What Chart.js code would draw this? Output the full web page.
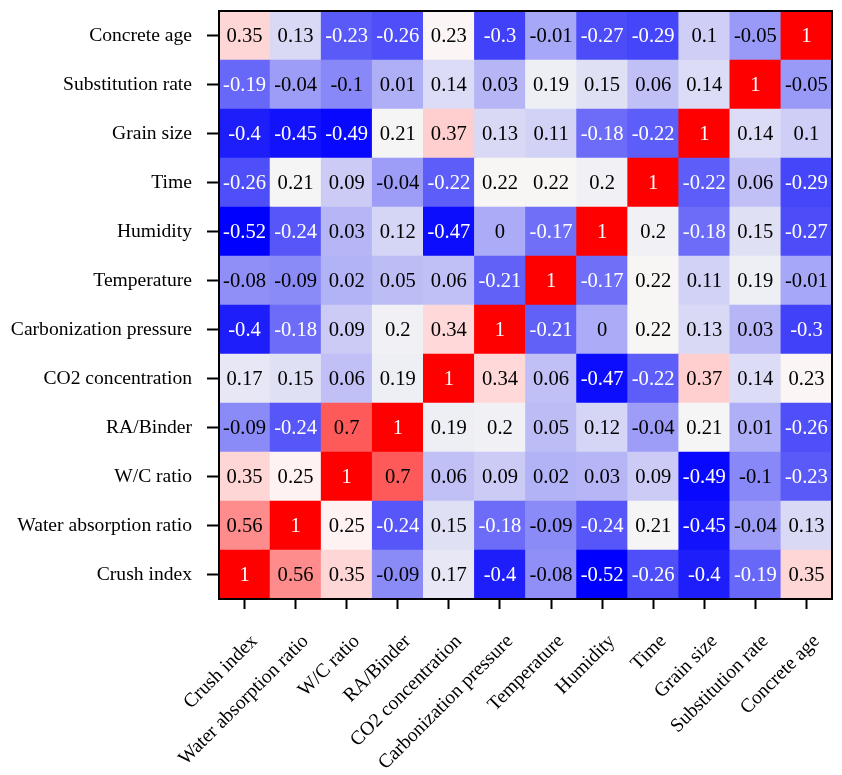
<!DOCTYPE html>
<html>
<head>
<meta charset="utf-8">
<script src="https://cdn.jsdelivr.net/npm/chart.js@4.4.1/dist/chart.umd.min.js"></script>
<style>
  html, body { margin: 0; padding: 0; background: #fff; }
  #wrap { width: 842px; height: 775px; }
</style>
</head>
<body>
<div id="wrap"><canvas id="heatmap"></canvas></div>
<script>
// variables, bottom row / left column first
var variables = [
    'Crush index',
    'Water absorption ratio',
    'W/C ratio',
    'RA/Binder',
    'CO2 concentration',
    'Carbonization pressure',
    'Temperature',
    'Humidity',
    'Time',
    'Grain size',
    'Substitution rate',
    'Concrete age'
];

// one row per variable, columns in the same order as variables
var crushIndex            = [1, 0.56, 0.35, -0.09, 0.17, -0.4, -0.08, -0.52, -0.26, -0.4, -0.19, 0.35];
var waterAbsorptionRatio  = [0.56, 1, 0.25, -0.24, 0.15, -0.18, -0.09, -0.24, 0.21, -0.45, -0.04, 0.13];
var wcRatio               = [0.35, 0.25, 1, 0.7, 0.06, 0.09, 0.02, 0.03, 0.09, -0.49, -0.1, -0.23];
var raBinder              = [-0.09, -0.24, 0.7, 1, 0.19, 0.2, 0.05, 0.12, -0.04, 0.21, 0.01, -0.26];
var co2Concentration      = [0.17, 0.15, 0.06, 0.19, 1, 0.34, 0.06, -0.47, -0.22, 0.37, 0.14, 0.23];
var carbonizationPressure = [-0.4, -0.18, 0.09, 0.2, 0.34, 1, -0.21, 0, 0.22, 0.13, 0.03, -0.3];
var temperature           = [-0.08, -0.09, 0.02, 0.05, 0.06, -0.21, 1, -0.17, 0.22, 0.11, 0.19, -0.01];
var humidity              = [-0.52, -0.24, 0.03, 0.12, -0.47, 0, -0.17, 1, 0.2, -0.18, 0.15, -0.27];
var time                  = [-0.26, 0.21, 0.09, -0.04, -0.22, 0.22, 0.22, 0.2, 1, -0.22, 0.06, -0.29];
var grainSize             = [-0.4, -0.45, -0.49, 0.21, 0.37, 0.13, 0.11, -0.18, -0.22, 1, 0.14, 0.1];
var substitutionRate      = [-0.19, -0.04, -0.1, 0.01, 0.14, 0.03, 0.19, 0.15, 0.06, 0.14, 1, -0.05];
var concreteAge           = [0.35, 0.13, -0.23, -0.26, 0.23, -0.3, -0.01, -0.27, -0.29, 0.1, -0.05, 1];

var matrix = [
    crushIndex, waterAbsorptionRatio, wcRatio, raBinder, co2Concentration,
    carbonizationPressure, temperature, humidity, time, grainSize,
    substitutionRate, concreteAge
];

// blue - whitesmoke - red, like the bwr map
var colorStops = [
    [-0.52, [0, 0, 255]],
    [-0.4, [30, 30, 250]],
    [0.21, [245, 245, 245]],
    [0.24, [255, 245, 245]],
    [0.35, [255, 214, 214]],
    [0.7, [255, 90, 90]],
    [1, [255, 0, 0]]
];

var cellColor = function (v) {
    var i = 0;
    while (i < colorStops.length - 2 && v > colorStops[i + 1][0]) i++;
    var a = colorStops[i], b = colorStops[i + 1];
    var t = Math.min(1, Math.max(0, (v - a[0]) / (b[0] - a[0])));
    var c = a[1].map(function (ch, k) { return Math.round(ch + (b[1][k] - ch) * t); });
    return 'rgb(' + c.join(',') + ')';
};

var textColor = function (v) {
    return (v >= 0.9 || v <= -0.15) ? '#ffffff' : '#000000';
};

var datasets = matrix.map(function (row, i) {
    return {
        label: variables[i],
        data: row.map(function () { return [i - 0.5, i + 0.5]; }),
        backgroundColor: row.map(cellColor),
        borderWidth: 0,
        barPercentage: 1,
        categoryPercentage: 1,
        grouped: false
    };
});

var serif = '"Liberation Serif", "Times New Roman", serif';
var fontSize = 19.6;

var valueLabels = {
    id: 'valueLabels',
    afterDatasetsDraw: function (chart) {
        var ctx = chart.ctx;
        var xs = chart.scales.x, ys = chart.scales.y;
        ctx.save();
        ctx.font = '20.6px ' + serif;
        ctx.textAlign = 'center';
        ctx.textBaseline = 'middle';
        matrix.forEach(function (row, i) {
            row.forEach(function (v, j) {
                ctx.fillStyle = textColor(v);
                ctx.fillText(String(v), xs.getPixelForValue(j), ys.getPixelForValue(i) + 1);
            });
        });
        ctx.restore();
    }
};

var frame = {
    id: 'frame',
    afterDraw: function (chart) {
        var a = chart.chartArea, ctx = chart.ctx;
        ctx.save();
        ctx.strokeStyle = '#000';
        ctx.lineWidth = 2;
        ctx.strokeRect(a.left, a.top, a.right - a.left, a.bottom - a.top);
        ctx.restore();
    }
};

Chart.defaults.font.family = serif;
Chart.defaults.font.size = fontSize;
Chart.defaults.color = '#000';

new Chart(document.getElementById('heatmap').getContext('2d'), {
    type: 'bar',
    data: { labels: variables, datasets: datasets },
    options: {
        responsive: true,
        maintainAspectRatio: false,
        animation: false,
        layout: { padding: { top: 11, right: 10, left: 0, bottom: 0 } },
        plugins: { legend: { display: false }, tooltip: { enabled: false } },
        scales: {
            x: {
                type: 'category',
                offset: true,
                afterFit: function (s) {
                    s.height = 176;
                    s.paddingLeft = 0;
                    s.paddingRight = 0;
                },
                ticks: { autoSkip: false, minRotation: 45, maxRotation: 45, padding: 21, labelOffset: 10 },
                grid: { offset: false, drawOnChartArea: false, tickLength: 10, tickWidth: 2, tickColor: '#000' },
                border: { display: true, color: '#000', width: 2 }
            },
            y: {
                type: 'linear',
                min: -0.5,
                max: 11.5,
                afterBuildTicks: function (s) {
                    s.ticks = variables.map(function (_, i) { return { value: i }; });
                },
                afterFit: function (s) {
                    s.width = 219;
                    s.paddingTop = 0;
                    s.paddingBottom = 0;
                },
                ticks: {
                    autoSkip: false,
                    padding: 15,
                    callback: function (v) { return variables[v]; }
                },
                grid: { drawOnChartArea: false, tickLength: 12, tickWidth: 2, tickColor: '#000' },
                border: { display: true, color: '#000', width: 2 }
            }
        }
    },
    plugins: [valueLabels, frame]
});
</script>
</body>
</html>
